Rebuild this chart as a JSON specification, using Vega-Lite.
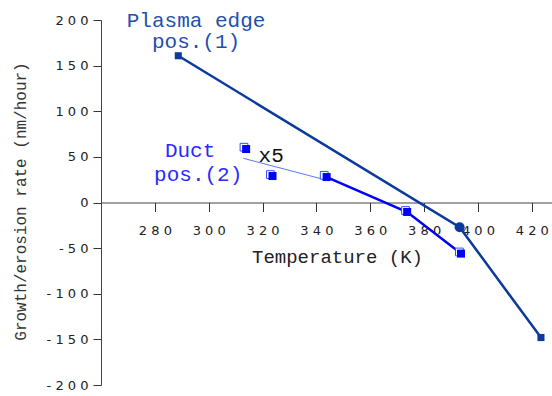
{
  "$schema": "https://vega.github.io/schema/vega-lite/v6.json",
  "width": 451,
  "height": 365,
  "autosize": {"type": "none"},
  "padding": {"left": 101, "top": 20, "right": 0, "bottom": 11},
  "background": "white",
  "config": {"view": {"stroke": null}},
  "datasets": {
    "pts": [
      {"series": "plasma", "T": 288.7, "rate": 160.8},
      {"series": "plasma", "T": 393.2, "rate": -27.1},
      {"series": "plasma", "T": 423.4, "rate": -148},
      {"series": "ductThin", "T": 312.9, "rate": 48.4},
      {"series": "ductThin", "T": 342.6, "rate": 25.4},
      {"series": "ductThick", "T": 343.8, "rate": 27.9},
      {"series": "ductThick", "T": 373.7, "rate": -10.4},
      {"series": "ductThick", "T": 393.7, "rate": -56},
      {"series": "ductHollow", "T": 313.1, "rate": 60.6},
      {"series": "ductHollow", "T": 322.9, "rate": 30.6},
      {"series": "ductHollow", "T": 342.9, "rate": 29.8},
      {"series": "ductHollow", "T": 373.1, "rate": -8.8},
      {"series": "ductHollow", "T": 393.1, "rate": -54.2},
      {"series": "ductFilled", "T": 313.9, "rate": 58.6},
      {"series": "ductFilled", "T": 323.7, "rate": 29.0},
      {"series": "ductFilled", "T": 343.8, "rate": 27.9},
      {"series": "ductFilled", "T": 373.7, "rate": -10.4},
      {"series": "ductFilled", "T": 393.7, "rate": -56}
    ],
    "labels": [
      {"group": "plasma", "T": 295.3, "rate": 192.3, "text": "Plasma edge"},
      {"group": "plasma", "T": 295.3, "rate": 169.3, "text": "pos.(1)"},
      {"group": "duct", "T": 293.1, "rate": 49.9, "text": "Duct"},
      {"group": "duct", "T": 296.1, "rate": 23.6, "text": "pos.(2)"},
      {"group": "x5", "T": 323.2, "rate": 44.1, "text": "x5"}
    ]
  },
  "encoding": {
    "x": {
      "field": "T", "type": "quantitative",
      "scale": {"domain": [260, 427.5], "nice": false, "zero": false},
      "axis": {
        "orient": "bottom", "offset": -182.5, "grid": false,
        "values": [280, 300, 320, 340, 360, 380, 400, 420],
        "labelExpr": "join(split(toString(datum.value), ''), ' ')",
        "labelFont": "DejaVu Sans", "labelFontSize": 13, "labelColor": "#222",
        "labelPadding": 13, "tickSize": 9, "tickColor": "#333", "domainColor": "#444",
        "title": "Temperature (K)", "titleFont": "Liberation Mono", "titleFontSize": 19,
        "titleFontWeight": "normal", "titleColor": "#222",
        "titleX": 236, "titleY": 53.5, "titleAlign": "center", "titleBaseline": "middle"
      }
    },
    "y": {
      "field": "rate", "type": "quantitative",
      "scale": {"domain": [-200, 200], "nice": false},
      "axis": {
        "grid": false,
        "values": [-200, -150, -100, -50, 0, 50, 100, 150, 200],
        "labelExpr": "join(split(toString(datum.value), ''), ' ')",
        "labelFont": "DejaVu Sans", "labelFontSize": 13, "labelColor": "#222",
        "labelPadding": 5, "tickSize": 8, "tickColor": "#333", "domainColor": "#444",
        "title": "Growth/erosion rate (nm/hour)", "titleFont": "Liberation Mono", "titleFontSize": 16,
        "titleFontWeight": "normal", "titleColor": "#333",
        "titleX": -81, "titleY": 181, "titleAngle": 270, "titleAlign": "center", "titleBaseline": "middle"
      }
    }
  },
  "layer": [
    {
      "data": {"name": "pts"},
      "transform": [{"filter": "datum.series === 'plasma'"}],
      "mark": {"type": "line", "color": "#0a3a9c", "strokeWidth": 2.5}
    },
    {
      "data": {"name": "pts"},
      "transform": [{"filter": "datum.series === 'ductThin'"}],
      "mark": {"type": "line", "color": "#5a78ff", "strokeWidth": 1}
    },
    {
      "data": {"name": "pts"},
      "transform": [{"filter": "datum.series === 'ductThick'"}],
      "mark": {"type": "line", "color": "#0000ff", "strokeWidth": 2.5}
    },
    {
      "data": {"name": "pts"},
      "transform": [{"filter": "datum.series === 'plasma' && datum.T < 390 || datum.series === 'plasma' && datum.T > 400"}],
      "mark": {"type": "point", "shape": "square", "filled": true, "size": 50, "color": "#0a3a9c", "opacity": 1}
    },
    {
      "data": {"name": "pts"},
      "transform": [{"filter": "datum.series === 'plasma' && datum.T > 390 && datum.T < 400"}],
      "mark": {"type": "point", "shape": "circle", "filled": true, "size": 100, "color": "#0a3a9c", "opacity": 1}
    },
    {
      "data": {"name": "pts"},
      "transform": [{"filter": "datum.series === 'ductHollow'"}],
      "mark": {"type": "point", "shape": "square", "filled": false, "size": 60, "stroke": "#3050ff", "fill": "white", "fillOpacity": 1, "strokeWidth": 1, "opacity": 1}
    },
    {
      "data": {"name": "pts"},
      "transform": [{"filter": "datum.series === 'ductFilled'"}],
      "mark": {"type": "point", "shape": "square", "filled": true, "size": 64, "color": "#0000ff", "opacity": 1}
    },
    {
      "data": {"name": "labels"},
      "mark": {"type": "text", "font": "Liberation Mono", "align": "center", "baseline": "alphabetic"},
      "encoding": {
        "text": {"field": "text"},
        "size": {
          "field": "group", "type": "nominal", "legend": null,
          "scale": {"domain": ["plasma", "duct", "x5"], "range": [21, 21, 20]}
        },
        "color": {
          "field": "group", "type": "nominal", "legend": null,
          "scale": {"domain": ["plasma", "duct", "x5"], "range": ["#1f4fb0", "#2a2aff", "#111111"]}
        }
      }
    }
  ]
}
